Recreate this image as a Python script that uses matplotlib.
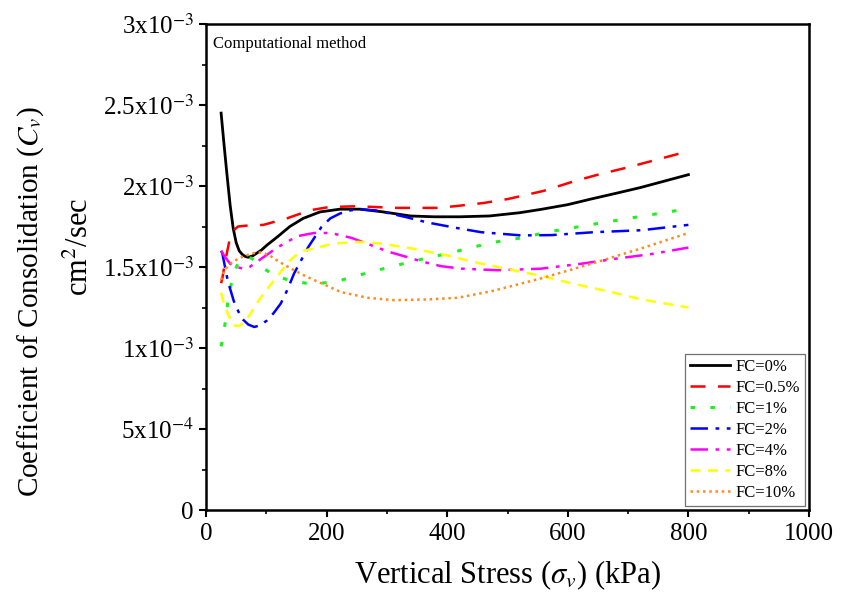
import matplotlib
matplotlib.use("Agg")
import matplotlib.pyplot as plt
from matplotlib.ticker import MultipleLocator, FuncFormatter

plt.rcParams['font.family'] = ['Liberation Serif', 'DejaVu Serif']
plt.rcParams['mathtext.fontset'] = 'stix'

# data (x in kPa, y in 1e-3 cm2/sec)
x_fc0 = [25, 30, 35, 40, 45, 50, 55, 60, 65, 70, 77, 84, 92, 101, 118, 139, 161, 189, 222, 256,
         294, 339, 378, 421, 470, 520, 556, 600, 639, 680, 720, 760, 800]
y_fc0 = [2.45, 2.25, 2.06, 1.88, 1.74, 1.65, 1.60, 1.578, 1.565, 1.56, 1.568, 1.585, 1.605, 1.635,
         1.685, 1.75, 1.80, 1.84, 1.857, 1.857, 1.84, 1.815, 1.81, 1.81, 1.815, 1.835, 1.856, 1.885,
         1.92, 1.955, 1.99, 2.03, 2.07]

x_fc05 = [25, 27, 32, 40, 47, 53, 66, 95, 134, 172, 204, 249, 315, 382, 412, 460, 501, 560, 611,
          650, 694, 740, 785, 800]
y_fc05 = [1.40, 1.43, 1.54, 1.685, 1.73, 1.75, 1.755, 1.76, 1.80, 1.85, 1.87, 1.875, 1.865, 1.865,
          1.875, 1.895, 1.92, 1.97, 2.03, 2.07, 2.11, 2.155, 2.20, 2.225]

x_fc1 = [25, 30, 33, 36, 41, 46, 55, 65, 75, 85, 96, 115, 141, 166, 190, 216, 260, 310, 360, 403,
         473, 523, 573, 644, 717, 800]
y_fc1 = [1.01, 1.11, 1.19, 1.28, 1.38, 1.46, 1.54, 1.56, 1.555, 1.53, 1.49, 1.445, 1.415, 1.40,
         1.40, 1.41, 1.456, 1.505, 1.55, 1.585, 1.65, 1.68, 1.72, 1.765, 1.81, 1.86]

x_fc2 = [25, 27, 36, 46, 53, 60, 70, 80, 90, 101, 112, 124, 135, 146, 169, 191, 206, 222, 240, 256,
         280, 306, 335, 367, 417, 456, 523, 573, 644, 722, 800]
y_fc2 = [1.60, 1.585, 1.415, 1.29, 1.23, 1.18, 1.145, 1.13, 1.14, 1.17, 1.215, 1.275, 1.36, 1.46,
         1.62, 1.745, 1.80, 1.83, 1.85, 1.855, 1.85, 1.83, 1.805, 1.775, 1.74, 1.715, 1.695, 1.697,
         1.715, 1.727, 1.76]

x_fc4 = [25, 30, 40, 50, 62, 72, 80, 95, 118, 151, 179, 207, 241, 270, 302, 330, 357, 390, 423, 485,
         556, 622, 677, 739, 800]
y_fc4 = [1.60, 1.57, 1.52, 1.50, 1.49, 1.50, 1.52, 1.56, 1.62, 1.69, 1.71, 1.71, 1.68, 1.64, 1.595,
         1.565, 1.535, 1.505, 1.49, 1.48, 1.49, 1.52, 1.55, 1.58, 1.62]

x_fc8 = [25, 30, 36, 41, 46, 52, 57, 66, 75, 85, 96, 107, 118, 128, 139, 150, 161, 179, 212, 252,
         290, 340, 402, 445, 501, 556, 611, 667, 722, 800]
y_fc8 = [1.34, 1.27, 1.215, 1.17, 1.14, 1.135, 1.14, 1.17, 1.22, 1.28, 1.34, 1.39, 1.44, 1.49, 1.54,
         1.575, 1.60, 1.615, 1.645, 1.655, 1.645, 1.615, 1.57, 1.53, 1.487, 1.445, 1.395, 1.35,
         1.30, 1.25]

x_fc10 = [25, 30, 42, 55, 66, 78, 91, 104, 118, 134, 151, 170, 191, 224, 268, 312, 368, 417, 473,
          556, 639, 722, 800]
y_fc10 = [1.42, 1.48, 1.525, 1.555, 1.57, 1.585, 1.59, 1.575, 1.54, 1.505, 1.47, 1.435, 1.40, 1.345,
          1.31, 1.295, 1.30, 1.31, 1.35, 1.43, 1.52, 1.615, 1.71]

labels = ['FC=0%', 'FC=0.5%', 'FC=1%', 'FC=2%', 'FC=4%', 'FC=8%', 'FC=10%']

series = [
    (x_fc0, y_fc0, 'black', '-', 2.0),
    (x_fc05, y_fc05, 'red', (0, (6, 5)), 1.8),
    (x_fc1, y_fc1, '#22ee22', (0, (1.5, 5)), 2.2),
    (x_fc2, y_fc2, 'blue', (0, (7, 3, 1.5, 3)), 1.8),
    (x_fc4, y_fc4, 'magenta', (0, (7, 3, 1.5, 3, 1.5, 3)), 1.8),
    (x_fc8, y_fc8, 'yellow', (0, (4, 3)), 1.8),
    (x_fc10, y_fc10, '#ff8c1a', (0, (1, 1.5)), 1.8),
]

fig = plt.figure(figsize=(8.42, 6.03), dpi=100)
ax = fig.add_axes([0.2447, 0.1542, 0.7161, 0.806])

for (xs, ys, c, ls, lw), lab in zip(series, labels):
    ax.plot(xs, [v * 1e-3 for v in ys], color=c, linestyle=ls, linewidth=lw, label=lab)

ax.set_xlim(0, 1000)
ax.set_ylim(0, 3e-3)
ax.xaxis.set_major_locator(MultipleLocator(200))
ax.xaxis.set_minor_locator(MultipleLocator(100))
ax.yaxis.set_major_locator(MultipleLocator(0.5e-3))
ax.yaxis.set_minor_locator(MultipleLocator(0.25e-3))


def yfmt(v, pos):
    if abs(v) < 1e-12:
        return '0'
    if v < 1e-3 - 1e-9:
        return '%gx10$^{-4}$' % round(v * 1e4, 3)
    return '%gx10$^{-3}$' % round(v * 1e3, 3)


ax.yaxis.set_major_formatter(FuncFormatter(yfmt))
ax.tick_params(which='major', direction='out', length=5, width=1.5, labelsize=18, pad=4)
ax.tick_params(which='minor', direction='out', length=3, width=1.2)
for s in ax.spines.values():
    s.set_linewidth(1.8)

ax.set_xlabel('Vertical Stress ($\\sigma_v$) (kPa)', fontsize=22, labelpad=10)
fig.text(0.036, 0.50, 'Coefficient of Consolidation ($C_v$)', rotation=90,
         fontsize=21, ha='center', va='center')
fig.text(0.096, 0.59, 'cm$^2$/sec', rotation=90, fontsize=22, ha='center', va='center')

ax.text(0.012, 0.975, 'Computational method', transform=ax.transAxes,
        fontsize=12, ha='left', va='top')

leg = ax.legend(loc='lower right', bbox_to_anchor=(0.993, 0.008), borderaxespad=0,
                fontsize=12, frameon=True, fancybox=False, handlelength=2.4,
                labelspacing=0.3, borderpad=0.3, handletextpad=0.3)
leg.get_frame().set_edgecolor('0.3')
leg.get_frame().set_linewidth(0.9)

fig.savefig('out.png', dpi=100)
